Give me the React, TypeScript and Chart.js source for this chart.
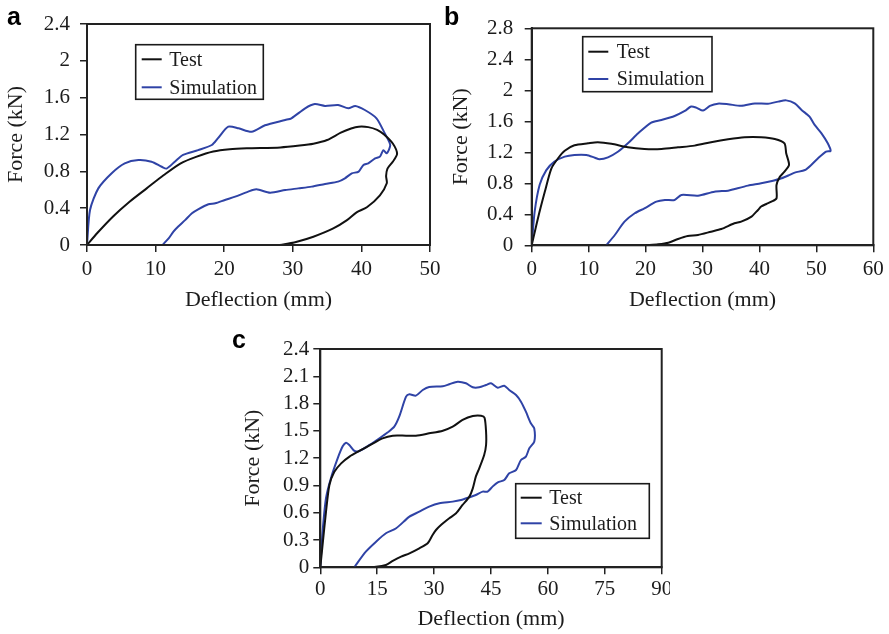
import React, { useEffect, useRef } from 'react';
import { Chart, registerables } from 'chart.js';

Chart.register(...registerables);

const SERIF = "'Liberation Serif', 'Times New Roman', Times, serif";
const SANS = "'Liberation Sans', Arial, Helvetica, sans-serif";
const TEXT = '#1c1c1c';
const AXIS = '#222222';
const TEST_COLOR = '#111111';
const SIM_COLOR = '#2f43a6';

const seriesNames = ['Test', 'Simulation'];
const xTitle = 'Deflection (mm)';
const yTitle = 'Force (kN)';

// ---------- Panel a ----------
const aXTicks = [0, 10, 20, 30, 40, 50];
const aYTicks = [0, 0.4, 0.8, 1.2, 1.6, 2, 2.4];
const aTestDeflection = [0, 1.5, 3.8, 6.2, 8.7, 11.2, 13.6, 16, 18.4, 20.8, 23.3, 28.2, 31, 33, 35, 37, 38.5, 39.6, 41, 42.3, 43.3, 44.6, 45.2, 44.6, 43.8, 43.6, 43.7, 42.7, 40.8, 39.3, 37.9, 35.9, 33, 30.6, 28.6, 27.9];
const aTestForce = [0, 0.13, 0.31, 0.47, 0.615, 0.76, 0.885, 0.96, 1.015, 1.04, 1.05, 1.06, 1.08, 1.1, 1.14, 1.22, 1.265, 1.285, 1.28, 1.25, 1.2, 1.1, 0.99, 0.906, 0.83, 0.75, 0.67, 0.54, 0.41, 0.355, 0.27, 0.18, 0.09, 0.036, 0.005, 0];
const aSimDeflection = [0, 0.44, 1.65, 3.6, 5.5, 7.5, 9.4, 10.9, 11.6, 12.8, 14.0, 16.2, 18.2, 19.1, 20.6, 22.1, 24.0, 25.95, 28.9, 29.8, 31.8, 33.2, 34.7, 36.6, 38.1, 39.1, 40.5, 42.2, 43.4, 44.2, 43.7, 43.2, 42.7, 42.0, 41.0, 40.3, 39.6, 38.6, 37.6, 36.6, 34.7, 32.75, 30.8, 28.9, 26.7, 24.7, 23.5, 21.6, 20.1, 18.7, 17.7, 16.2, 15.3, 14.3, 13.3, 12.6, 11.9, 11.0];
const aSimForce = [0, 0.38, 0.615, 0.78, 0.887, 0.923, 0.905, 0.85, 0.83, 0.905, 0.978, 1.03, 1.086, 1.16, 1.285, 1.267, 1.23, 1.3, 1.358, 1.376, 1.484, 1.53, 1.51, 1.52, 1.484, 1.51, 1.466, 1.376, 1.213, 1.086, 0.996, 1.03, 0.96, 0.94, 0.887, 0.87, 0.797, 0.778, 0.724, 0.688, 0.663, 0.634, 0.615, 0.597, 0.568, 0.605, 0.58, 0.525, 0.489, 0.453, 0.442, 0.387, 0.344, 0.27, 0.2, 0.145, 0.072, 0];

// ---------- Panel b ----------
const bXTicks = [0, 10, 20, 30, 40, 50, 60];
const bYTicks = [0, 0.4, 0.8, 1.2, 1.6, 2, 2.4, 2.8];
const bTestDeflection = [0, 1.1, 2.3, 3.45, 4.6, 5.8, 7.5, 9.9, 11.6, 14.0, 16.9, 19.8, 22.8, 25.7, 28.6, 31.5, 34.5, 37.4, 40.3, 42.7, 44.4, 44.7, 45.2, 44.4, 43.6, 43.0, 43.0, 42.1, 41.2, 40.3, 39.75, 38.6, 36.8, 35.6, 33.3, 31.5, 29.2, 27.4, 25.7, 24.0, 22.2, 20.1];
const bTestForce = [0, 0.35, 0.69, 0.99, 1.12, 1.22, 1.29, 1.316, 1.33, 1.31, 1.264, 1.243, 1.243, 1.264, 1.286, 1.33, 1.368, 1.394, 1.394, 1.372, 1.316, 1.187, 1.037, 0.95, 0.886, 0.778, 0.606, 0.563, 0.533, 0.5, 0.456, 0.37, 0.305, 0.284, 0.21, 0.176, 0.133, 0.12, 0.082, 0.034, 0.013, 0];
const bSimDeflection = [0, 0.52, 1.4, 2.57, 4.0, 5.8, 7.5, 9.6, 11.1, 11.9, 13.4, 15.2, 16.9, 18.7, 21.0, 22.8, 25.1, 26.9, 28.0, 28.9, 30.1, 31.3, 32.7, 34.5, 36.8, 39.2, 41.5, 43.3, 44.7, 46.2, 47.4, 48.8, 49.7, 50.9, 52.0, 52.5, 51.7, 50.3, 49.1, 48.0, 46.2, 45.3, 43.9, 42.4, 40.3, 38.0, 35.65, 34.5, 32.1, 29.2, 26.3, 25.1, 23.4, 21.9, 19.8, 18.1, 16.3, 14.6, 13.1];
const bSimForce = [0, 0.434, 0.78, 0.97, 1.08, 1.144, 1.166, 1.166, 1.13, 1.11, 1.135, 1.21, 1.316, 1.445, 1.583, 1.617, 1.669, 1.733, 1.79, 1.776, 1.738, 1.798, 1.828, 1.82, 1.8, 1.83, 1.828, 1.854, 1.87, 1.832, 1.746, 1.66, 1.553, 1.445, 1.316, 1.217, 1.209, 1.123, 1.037, 0.972, 0.938, 0.908, 0.865, 0.834, 0.8, 0.77, 0.727, 0.705, 0.692, 0.64, 0.65, 0.585, 0.585, 0.563, 0.477, 0.413, 0.305, 0.133, 0];

// ---------- Panel c ----------
const cXTicks = [0, 15, 30, 45, 60, 75, 90];
const cYTicks = [0, 0.3, 0.6, 0.9, 1.2, 1.5, 1.8, 2.1, 2.4];
const cTestDeflection = [0, 0.6, 1.5, 2.4, 3.7, 5.5, 7.7, 10.3, 13.8, 16.4, 19.1, 22.6, 25.2, 28.7, 32.3, 34.9, 37.5, 40.2, 42.4, 43.3, 43.7, 43.7, 43.2, 41.9, 41.0, 40.2, 39.3, 37.5, 35.8, 34.0, 31.8, 30.5, 29.6, 28.3, 26.1, 23.5, 21.3, 19.1, 17.3, 14.7, 10.3];
const cTestForce = [0, 0.245, 0.61, 0.905, 1.05, 1.143, 1.217, 1.279, 1.36, 1.418, 1.447, 1.447, 1.447, 1.473, 1.502, 1.546, 1.62, 1.664, 1.667, 1.645, 1.49, 1.345, 1.235, 1.088, 0.997, 0.868, 0.777, 0.685, 0.594, 0.539, 0.465, 0.41, 0.355, 0.264, 0.209, 0.154, 0.117, 0.07, 0.026, 0.007, 0];
const cSimDeflection = [0, 0.6, 1.5, 2.8, 4.6, 5.9, 6.8, 7.65, 9.0, 10.3, 13.0, 15.6, 17.8, 19.5, 20.8, 22.6, 23.5, 25.2, 27.0, 28.7, 32.3, 34.0, 36.2, 38.4, 40.2, 41.9, 43.7, 45.0, 46.8, 48.5, 49.8, 51.6, 52.9, 54.2, 55.5, 56.4, 56.4, 55.1, 54.2, 52.9, 51.6, 49.8, 48.5, 46.8, 45.4, 44.1, 42.8, 41.0, 39.3, 37.1, 34.9, 31.4, 28.7, 26.1, 23.5, 20.0, 17.3, 14.7, 12.0, 9.4, 9.0];
const cSimForce = [0, 0.39, 0.76, 0.98, 1.2, 1.33, 1.37, 1.345, 1.279, 1.279, 1.345, 1.418, 1.484, 1.546, 1.656, 1.876, 1.902, 1.887, 1.949, 1.982, 1.99, 2.012, 2.041, 2.023, 1.979, 1.979, 2.004, 2.023, 1.975, 1.997, 1.949, 1.894, 1.821, 1.711, 1.583, 1.528, 1.381, 1.308, 1.217, 1.18, 1.07, 1.033, 0.96, 0.934, 0.887, 0.832, 0.832, 0.795, 0.77, 0.74, 0.722, 0.704, 0.667, 0.612, 0.557, 0.429, 0.374, 0.282, 0.172, 0.026, 0];

const toPoints = (xs: number[], ys: number[]) => xs.map((x, i) => ({ x, y: ys[i] }));
const fmt = (v: number) => String(Math.round(v * 10) / 10);

type LegendLayout = { x: number; y: number; w: number; h: number; l0: number; l1: number; r1: number; r2: number; tx: number };

type PanelProps = {
  left: number; top: number; width: number; height: number;
  letter: string; letterX: number; letterY: number;
  xTicks: number[]; yTicks: number[];
  testX: number[]; testY: number[]; simX: number[]; simY: number[];
  yWidth: number; xHeight: number; padTop: number; padRight: number;
  yTickPad: number; xTickPad: number; yTitlePad: number; xTitlePad: number;
  legend: LegendLayout;
};

const panelPlugin = {
  id: 'panelDecor',
  afterDraw(chart: any, _args: any, opts: any) {
    const { ctx, chartArea: ca } = chart;
    ctx.save();
    // plot frame
    ctx.strokeStyle = AXIS;
    ctx.lineWidth = 2;
    ctx.strokeRect(ca.left, ca.top, ca.right - ca.left, ca.bottom - ca.top);
    // legend box
    const L = opts.legend;
    const bx = ca.left + L.x;
    const by = ca.top + L.y;
    ctx.lineWidth = 1.6;
    ctx.strokeStyle = '#1a1a1a';
    ctx.strokeRect(bx, by, L.w, L.h);
    const rows = [L.r1, L.r2];
    const cols = [TEST_COLOR, SIM_COLOR];
    ctx.font = `20px ${SERIF}`;
    ctx.textBaseline = 'middle';
    ctx.textAlign = 'left';
    rows.forEach((ry: number, i: number) => {
      ctx.strokeStyle = cols[i];
      ctx.lineWidth = 2;
      ctx.beginPath();
      ctx.moveTo(bx + L.l0, by + ry);
      ctx.lineTo(bx + L.l1, by + ry);
      ctx.stroke();
      ctx.fillStyle = TEXT;
      ctx.fillText(seriesNames[i], bx + L.tx, by + ry + 1);
    });
    // panel letter
    ctx.font = `bold 25px ${SANS}`;
    ctx.textBaseline = 'alphabetic';
    ctx.fillStyle = '#000';
    ctx.fillText(opts.letter, opts.letterX, opts.letterY);
    ctx.restore();
  },
};

function Panel(p: PanelProps) {
  const ref = useRef<HTMLCanvasElement | null>(null);
  useEffect(() => {
    if (!ref.current) return;
    const xMin = p.xTicks[0];
    const xMax = p.xTicks[p.xTicks.length - 1];
    const yMin = p.yTicks[0];
    const yMax = p.yTicks[p.yTicks.length - 1];
    const chart = new Chart(ref.current, {
      type: 'scatter',
      data: {
        datasets: [
          {
            label: seriesNames[0],
            data: toPoints(p.testX, p.testY),
            showLine: true,
            borderColor: TEST_COLOR,
            borderWidth: 2,
            pointRadius: 0,
            tension: 0.25,
            fill: false,
          },
          {
            label: seriesNames[1],
            data: toPoints(p.simX, p.simY),
            showLine: true,
            borderColor: SIM_COLOR,
            borderWidth: 2,
            pointRadius: 0,
            tension: 0.25,
            fill: false,
          },
        ],
      },
      options: {
        responsive: false,
        animation: false,
        devicePixelRatio: 1,
        layout: { padding: { left: 0, top: p.padTop, right: p.padRight, bottom: 0 } },
        plugins: {
          legend: { display: false },
          tooltip: { enabled: false },
          panelDecor: { legend: p.legend, letter: p.letter, letterX: p.letterX, letterY: p.letterY },
        } as any,
        scales: {
          x: {
            type: 'linear',
            min: xMin,
            max: xMax,
            afterBuildTicks: (s: any) => { s.ticks = p.xTicks.map((v) => ({ value: v })); },
            afterFit: (s: any) => { s.height = p.xHeight; s.paddingLeft = 0; s.paddingRight = 0; },
            ticks: {
              callback: (v: any) => fmt(Number(v)),
              color: TEXT,
              font: { family: SERIF, size: 21 },
              padding: p.xTickPad,
              maxRotation: 0,
              autoSkip: false,
            },
            grid: { drawOnChartArea: false, drawTicks: true, tickLength: 7, color: AXIS, lineWidth: 1.5 },
            border: { display: true, color: AXIS, width: 2 },
            title: { display: true, text: xTitle, color: TEXT, font: { family: SERIF, size: 22 }, padding: { top: 0, bottom: p.xTitlePad } },
          },
          y: {
            type: 'linear',
            min: yMin,
            max: yMax,
            afterBuildTicks: (s: any) => { s.ticks = p.yTicks.map((v) => ({ value: v })); },
            afterFit: (s: any) => { s.width = p.yWidth; s.paddingTop = 0; s.paddingBottom = 0; },
            ticks: {
              callback: (v: any) => fmt(Number(v)),
              color: TEXT,
              font: { family: SERIF, size: 21 },
              padding: p.yTickPad,
              autoSkip: false,
            },
            grid: { drawOnChartArea: false, drawTicks: true, tickLength: 7, color: AXIS, lineWidth: 1.5 },
            border: { display: true, color: AXIS, width: 2 },
            title: { display: true, text: yTitle, color: TEXT, font: { family: SERIF, size: 22 }, padding: { top: p.yTitlePad, bottom: 0 } },
          },
        },
      } as any,
      plugins: [panelPlugin as any],
    });
    return () => chart.destroy();
  }, []);
  return (
    <canvas
      ref={ref}
      width={p.width}
      height={p.height}
      style={{ position: 'absolute', left: p.left, top: p.top, width: p.width, height: p.height }}
    />
  );
}

export default function App() {
  return (
    <div style={{ position: 'absolute', left: 0, top: 0, width: 889, height: 634, background: '#fff', overflow: 'hidden' }}>
      <Panel
        left={0} top={0} width={445} height={320}
        letter="a" letterX={7} letterY={25}
        xTicks={aXTicks} yTicks={aYTicks}
        testX={aTestDeflection} testY={aTestForce} simX={aSimDeflection} simY={aSimForce}
        yWidth={87} xHeight={75} padTop={24} padRight={15}
        yTickPad={10} xTickPad={5} yTitlePad={3} xTitlePad={7}
        legend={{ x: 48.7, y: 20.7, w: 127.6, h: 54.6, l0: 6, l1: 26, r1: 14.6, r2: 42.6, tx: 33.6 }}
      />
      <Panel
        left={440} top={0} width={449} height={320}
        letter="b" letterX={4} letterY={25}
        xTicks={bXTicks} yTicks={bYTicks}
        testX={bTestDeflection} testY={bTestForce} simX={bSimDeflection} simY={bSimForce}
        yWidth={91.7} xHeight={74.7} padTop={28.3} padRight={15.7}
        yTickPad={11.5} xTickPad={5} yTitlePad={8} xTitlePad={7}
        legend={{ x: 51, y: 8.4, w: 129.3, h: 55, l0: 5.6, l1: 25.6, r1: 15, r2: 42.3, tx: 34 }}
      />
      <Panel
        left={230} top={330} width={440} height={304}
        letter="c" letterX={2} letterY={18.3}
        xTicks={cXTicks} yTicks={cYTicks}
        testX={cTestDeflection} testY={cTestForce} simX={cSimDeflection} simY={cSimForce}
        yWidth={90.3} xHeight={66.7} padTop={19} padRight={8.3}
        yTickPad={4} xTickPad={3} yTitlePad={10} xTitlePad={1.5}
        legend={{ x: 195.4, y: 134.7, w: 133.6, h: 54.6, l0: 5, l1: 26, r1: 14, r2: 39.6, tx: 33.6 }}
      />
    </div>
  );
}
